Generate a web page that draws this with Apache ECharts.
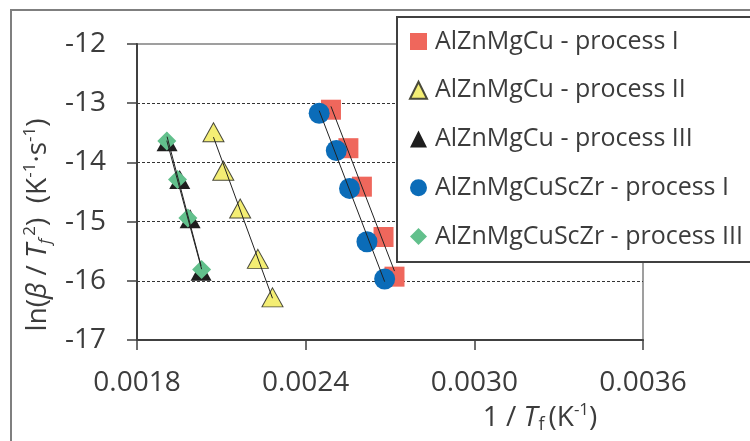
<!DOCTYPE html>
<html>
<head>
<meta charset="utf-8">
<script src="https://cdn.jsdelivr.net/npm/echarts@6/dist/echarts.min.js"></script>
<style>
  html, body { margin: 0; padding: 0; background: #fff; }
  #main { width: 750px; height: 441px; }
</style>
</head>
<body>
<div id="main"></div>
<script>
// series names (legend order)
var seriesNames = [
  'AlZnMgCu - process I',
  'AlZnMgCu - process II',
  'AlZnMgCu - process III',
  'AlZnMgCuScZr - process I',
  'AlZnMgCuScZr - process III'
];

// 1/Tf (K^-1) and ln(beta/Tf^2)
var xAlloyI   = [0.002490, 0.002552, 0.002600, 0.002677, 0.002716];
var yAlloyI   = [-13.11, -13.76, -14.41, -15.26, -15.93];
var xAlloyII  = [0.002072, 0.002107, 0.002167, 0.002230, 0.002282];
var yAlloyII  = [-13.49, -14.14, -14.78, -15.63, -16.28];
var xAlloyIII = [0.001907, 0.001952, 0.001989, 0.002028];
var yAlloyIII = [-13.65, -14.29, -14.95, -15.84];
var xScZrI    = [0.002448, 0.002509, 0.002556, 0.002618, 0.002681];
var yScZrI    = [-13.17, -13.80, -14.44, -15.34, -15.97];
var xScZrIII  = [0.001906, 0.001944, 0.001981, 0.002030];
var yScZrIII  = [-13.64, -14.29, -14.94, -15.81];

var xTickLabels = ['0.0018', '0.0024', '0.0030', '0.0036'];
var yTickLabels = ['-17', '-16', '-15', '-14', '-13', '-12'];

var FONT = 'Open Sans';
var TXT = '#3c3c3c';
var AXIS = '#404040';

function pairs(xs, ys) {
  var out = [];
  for (var i = 0; i < xs.length; i++) out.push([xs[i], ys[i]]);
  return out;
}

// least squares trend line over the data's x range
function trend(xs, ys) {
  var n = xs.length, sx = 0, sy = 0, sxx = 0, sxy = 0;
  for (var i = 0; i < n; i++) {
    sx += xs[i]; sy += ys[i]; sxx += xs[i] * xs[i]; sxy += xs[i] * ys[i];
  }
  var b = (n * sxy - sx * sy) / (n * sxx - sx * sx);
  var a = (sy - b * sx) / n;
  var x0 = Math.min.apply(null, xs), x1 = Math.max.apply(null, xs);
  return [[x0, a + b * x0], [x1, a + b * x1]];
}

function trendSeries(xs, ys) {
  return {
    type: 'line',
    data: trend(xs, ys),
    symbol: 'none',
    silent: true,
    z: 5,
    lineStyle: { color: '#222', width: 1 }
  };
}

var rich = {
  n:   { fontFamily: FONT, fontSize: 28, color: TXT, lineHeight: 32 },
  i:   { fontFamily: FONT, fontSize: 28, color: TXT, fontStyle: 'italic', lineHeight: 32 },
  sup: { fontFamily: FONT, fontSize: 17, color: TXT, verticalAlign: 'top', lineHeight: 20 },
  sub: { fontFamily: FONT, fontSize: 17, color: TXT, fontStyle: 'italic', verticalAlign: 'bottom', lineHeight: 20, padding: [0, 3, 0, 0] },
  subU: { fontFamily: FONT, fontSize: 18, color: TXT, verticalAlign: 'bottom', lineHeight: 20, padding: [0, 4, 0, 1] }
};

var chart = echarts.init(document.getElementById('main'));
chart.setOption({
  backgroundColor: '#fff',
  animation: false,
  graphic: [{
    type: 'rect',
    shape: { x: 11, y: 10, width: 800, height: 500 },
    style: { fill: 'none', stroke: '#7f7f7f', lineWidth: 2 },
    z: -1
  }],
  grid: {
    left: 137, right: 107, top: 44, bottom: 101,
    show: true, borderColor: '#808080', borderWidth: 1.5, backgroundColor: 'transparent'
  },
  legend: {
    data: seriesNames,
    orient: 'vertical',
    left: 397, top: 17,
    padding: [12, 40, 13, 12],
    itemGap: 23.75,
    itemWidth: 17, itemHeight: 17,
    backgroundColor: '#fff',
    borderColor: '#404040', borderWidth: 2,
    textStyle: { fontFamily: FONT, fontSize: 25, color: TXT, lineHeight: 25, padding: [0, 0, 0, 3] },
    z: 10
  },
  xAxis: {
    type: 'value',
    min: 0.0018, max: 0.0036, interval: 0.0006,
    name: '{n|1 / }{i|T}{subU|f}{n|(K}{sup|-1}{n|)}',
    nameLocation: 'middle',
    nameGap: 62,
    nameTextStyle: { rich: rich, padding: [0, 0, 0, 300] },
    axisLine: { lineStyle: { color: AXIS, width: 2 } },
    axisTick: { show: true, inside: false, length: 10, lineStyle: { color: AXIS, width: 1.5 } },
    axisLabel: {
      margin: 29, fontFamily: FONT, fontSize: 28, color: TXT,
      formatter: function (v) {
        var i = Math.round((v - 0.0018) / 0.0006);
        return xTickLabels[i] || '';
      }
    },
    splitLine: { show: false }
  },
  yAxis: {
    type: 'value',
    min: -17, max: -12, interval: 1,
    name: '{n|ln(}{i|β}{n| / }{i|T}{sub|f}{sup|2}{n|)  (K}{sup|-1}{n|·s}{sup|-1}{n|)}',
    nameLocation: 'middle',
    nameRotate: 90,
    nameGap: 82,
    nameTextStyle: { rich: rich, padding: [0, 66, 0, 0] },
    axisLine: { show: true, lineStyle: { color: AXIS, width: 2 } },
    axisTick: { show: true, inside: false, length: 10, lineStyle: { color: AXIS, width: 1.5 } },
    axisLabel: {
      margin: 31, fontFamily: FONT, fontSize: 28, color: TXT,
      formatter: function (v) {
        var i = Math.round(v + 17);
        return yTickLabels[i] || '';
      }
    },
    splitLine: {
      show: true, showMinLine: false, showMaxLine: false,
      lineStyle: { color: '#333', width: 1, type: [3, 2] }
    }
  },
  series: [
    {
      name: seriesNames[0], type: 'scatter', data: pairs(xAlloyI, yAlloyI),
      symbol: 'rect', symbolSize: 20, itemStyle: { color: '#ef675c', opacity: 1 }
    },
    {
      name: seriesNames[1], type: 'scatter', data: pairs(xAlloyII, yAlloyII),
      symbol: 'triangle', symbolSize: [21, 19],
      itemStyle: { color: '#f4ee74', borderColor: '#4a4a3a', borderWidth: 1, opacity: 1 }
    },
    {
      name: seriesNames[2], type: 'scatter', data: pairs(xAlloyIII, yAlloyIII),
      symbol: 'triangle', symbolSize: [21, 19], itemStyle: { color: '#1e1e1e', opacity: 1 }
    },
    {
      name: seriesNames[3], type: 'scatter', data: pairs(xScZrI, yScZrI),
      symbol: 'circle', symbolSize: 21, itemStyle: { color: '#0b6cb8', opacity: 1 }
    },
    {
      name: seriesNames[4], type: 'scatter', data: pairs(xScZrIII, yScZrIII),
      symbol: 'diamond', symbolSize: 19, itemStyle: { color: '#62c08c', opacity: 1 }
    },
    trendSeries(xAlloyI, yAlloyI),
    trendSeries(xAlloyII, yAlloyII),
    trendSeries(xAlloyIII, yAlloyIII),
    trendSeries(xScZrI, yScZrI),
    trendSeries(xScZrIII, yScZrIII)
  ]
});
</script>
</body>
</html>
